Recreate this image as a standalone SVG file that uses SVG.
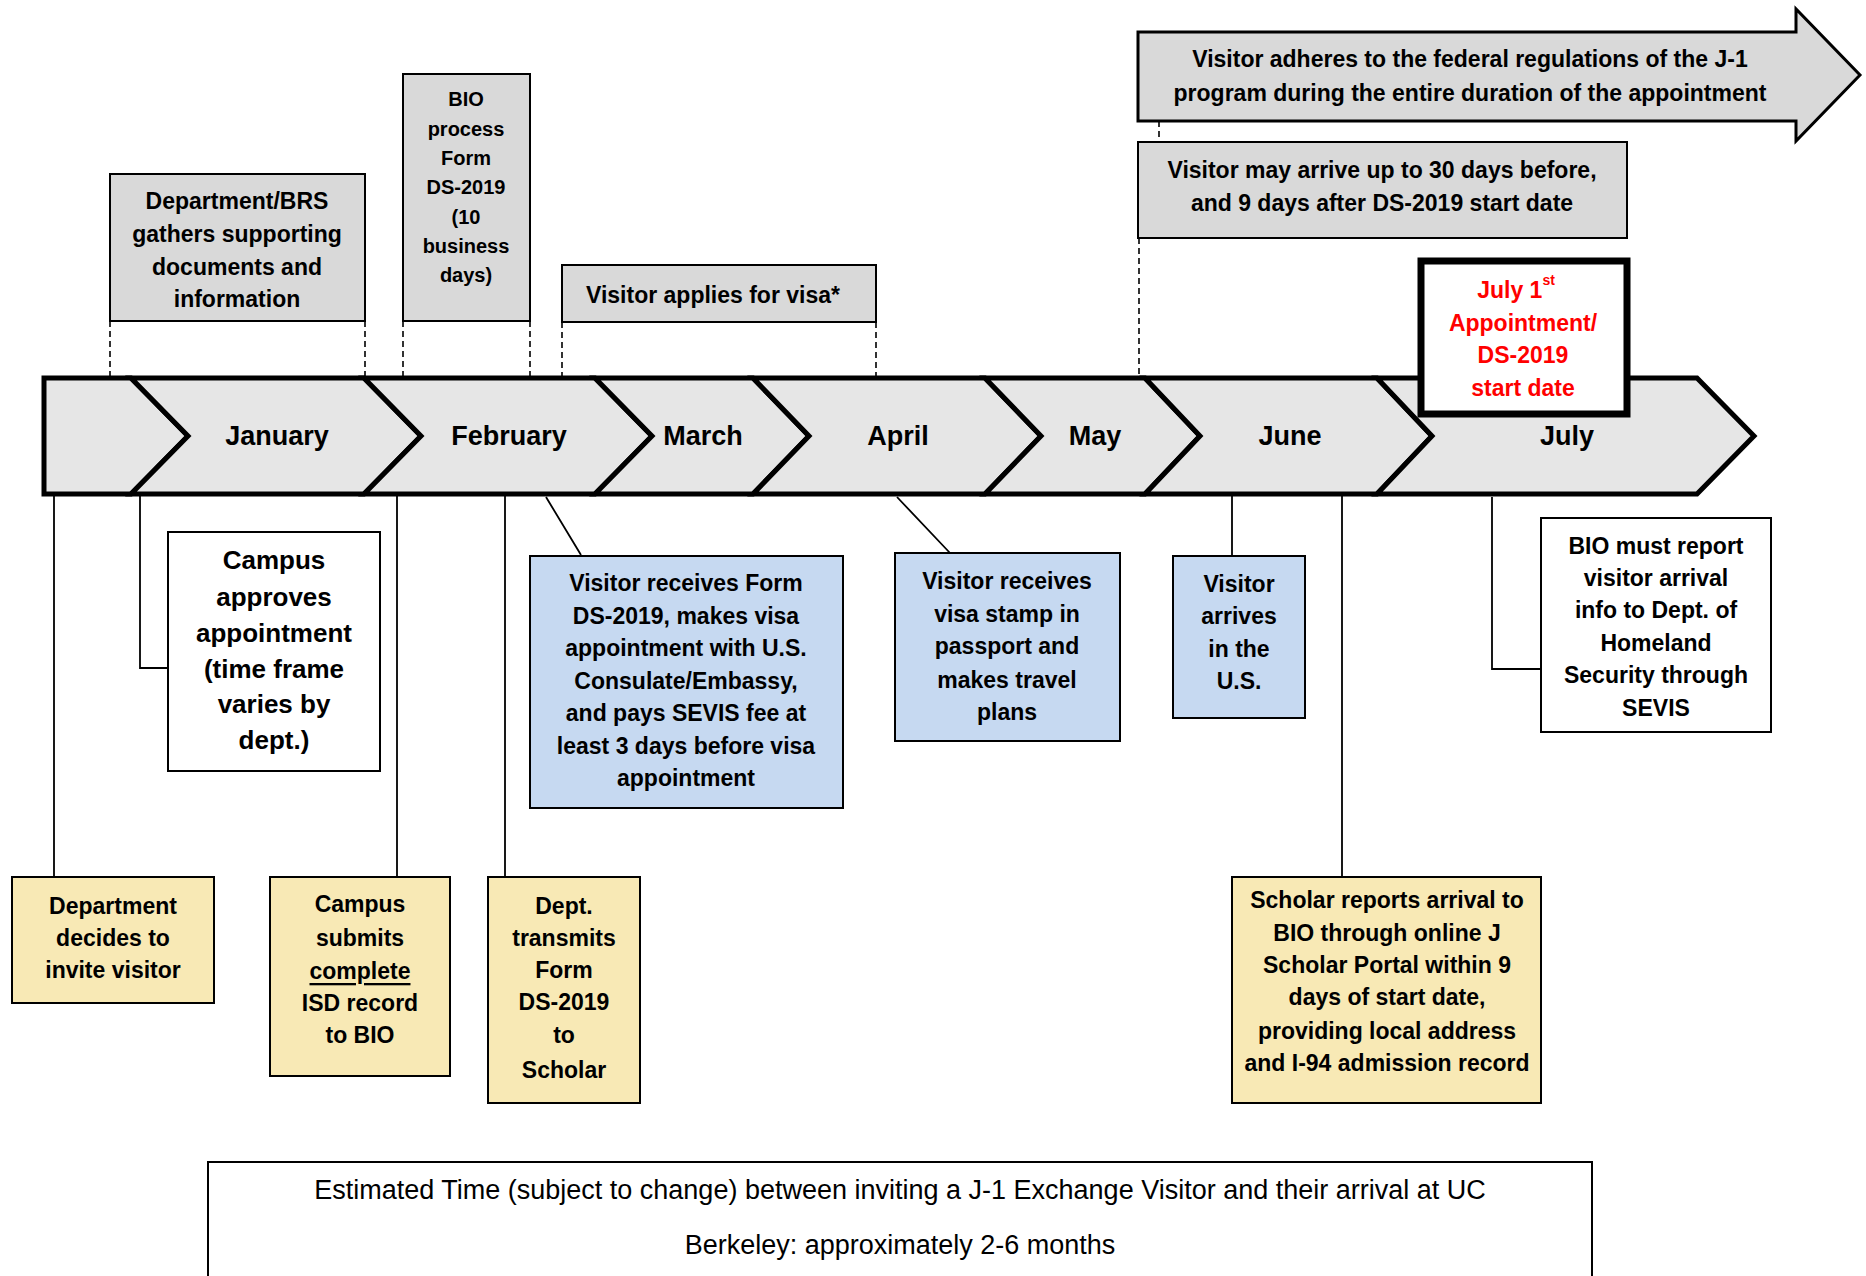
<svg xmlns="http://www.w3.org/2000/svg" width="1866" height="1276" viewBox="0 0 1866 1276">
<style>
text{font-family:"Liberation Sans",Arial,sans-serif;font-weight:bold;fill:#000;text-anchor:middle;dominant-baseline:central}
.g{fill:#D9D9D9;stroke:#000;stroke-width:2}
.w{fill:#fff;stroke:#000;stroke-width:2}
.b{fill:#C6D9F1;stroke:#000;stroke-width:2}
.y{fill:#F8E9B5;stroke:#000;stroke-width:2}
.band{fill:#E6E6E6;stroke:#000;stroke-width:5;stroke-linejoin:miter}
.t23{font-size:23px}
.mon{font-size:27px}
.dash{stroke:#000;stroke-width:1.6;stroke-dasharray:6 4;fill:none}
.ln{stroke:#000;stroke-width:1.8;fill:none}
</style>
<rect width="1866" height="1276" fill="#fff"/>

<g id="band">
<polygon class="band" points="44,378 131,378 188,436 131,494 44,494"/>
<polygon class="band" points="131,378 364,378 421,436 364,494 131,494 188,436"/>
<polygon class="band" points="364,378 595,378 652,436 595,494 364,494 421,436"/>
<polygon class="band" points="595,378 753,378 809,436 753,494 595,494 652,436"/>
<polygon class="band" points="753,378 985,378 1041,436 985,494 753,494 809,436"/>
<polygon class="band" points="985,378 1145,378 1200,436 1145,494 985,494 1041,436"/>
<polygon class="band" points="1145,378 1377,378 1432,436 1377,494 1145,494 1200,436"/>
<polygon class="band" points="1377,378 1697,378 1754,436 1697,494 1377,494 1432,436"/>
<text class="mon" x="277" y="436">January</text>
<text class="mon" x="509" y="436">February</text>
<text class="mon" x="703" y="436">March</text>
<text class="mon" x="898" y="436">April</text>
<text class="mon" x="1095" y="436">May</text>
<text class="mon" x="1290" y="436">June</text>
<text class="mon" x="1567" y="436">July</text>
</g>

<g id="connectors">
<path class="dash" d="M110,321V378M365,321V378M403,321V378M530,321V378M562,322V378M876,322V378M1159,121V142M1139,238V378"/>
<path class="ln" d="M54,494V877M140,494V668H168M397,494V877M505,494V877M546,497L581,555M897,497L950,553M1232,494V555M1342,494V877M1492,497V669H1541"/>
</g>

<g id="n-gather">
<rect class="g" x="110" y="174" width="255" height="147"/>
<text class="t23" x="237"><tspan x="237" y="201">Department/BRS</tspan><tspan x="237" y="234">gathers supporting</tspan><tspan x="237" y="267">documents and</tspan><tspan x="237" y="299">information</tspan></text>
</g>

<g id="n-bio">
<rect class="g" x="403" y="74" width="127" height="247"/>
<text style="font-size:20px" x="466"><tspan x="466" y="99">BIO</tspan><tspan x="466" y="129">process</tspan><tspan x="466" y="158">Form</tspan><tspan x="466" y="187">DS-2019</tspan><tspan x="466" y="217">(10</tspan><tspan x="466" y="246">business</tspan><tspan x="466" y="275">days)</tspan></text>
</g>

<g id="n-visa">
<rect class="g" x="562" y="265" width="314" height="57"/>
<text class="t23" x="713" y="295">Visitor applies for visa*</text>
</g>

<g id="n-adheres">
<polygon class="g" style="stroke-width:3" points="1138,32 1796,32 1796,9 1860,75 1796,141 1796,121 1138,121"/>
<text class="t23" x="1470"><tspan x="1470" y="59">Visitor adheres to the federal regulations of the J-1</tspan><tspan x="1470" y="93">program during the entire duration of the appointment</tspan></text>
</g>

<g id="n-arrive">
<rect class="g" x="1138" y="142" width="489" height="96"/>
<text class="t23" x="1382"><tspan x="1382" y="170">Visitor may arrive up to 30 days before,</tspan><tspan x="1382" y="203">and 9 days after DS-2019 start date</tspan></text>
</g>

<g id="n-july1">
<rect x="1421" y="261" width="206" height="153" fill="#fff" stroke="#000" stroke-width="7"/>
<text style="font-size:23px;fill:#FF0000" x="1523"><tspan x="1516" y="290">July 1</tspan><tspan style="font-size:14px" dy="-10">st</tspan><tspan x="1523" y="323">Appointment/</tspan><tspan x="1523" y="355">DS-2019</tspan><tspan x="1523" y="388">start date</tspan></text>
</g>

<g id="n-approves">
<rect class="w" x="168" y="532" width="212" height="239"/>
<text style="font-size:26px" x="274"><tspan x="274" y="560">Campus</tspan><tspan x="274" y="597">approves</tspan><tspan x="274" y="633">appointment</tspan><tspan x="274" y="669">(time frame</tspan><tspan x="274" y="704">varies by</tspan><tspan x="274" y="740">dept.)</tspan></text>
</g>

<g id="n-receives-form">
<rect class="b" x="530" y="556" width="313" height="252"/>
<text class="t23" x="686"><tspan x="686" y="583">Visitor receives Form</tspan><tspan x="686" y="616">DS-2019, makes visa</tspan><tspan x="686" y="648">appointment with U.S.</tspan><tspan x="686" y="681">Consulate/Embassy,</tspan><tspan x="686" y="713">and pays SEVIS fee at</tspan><tspan x="686" y="746">least 3 days before visa</tspan><tspan x="686" y="778">appointment</tspan></text>
</g>

<g id="n-stamp">
<rect class="b" x="895" y="553" width="225" height="188"/>
<text class="t23" x="1007"><tspan x="1007" y="581">Visitor receives</tspan><tspan x="1007" y="614">visa stamp in</tspan><tspan x="1007" y="646">passport and</tspan><tspan x="1007" y="680">makes travel</tspan><tspan x="1007" y="712">plans</tspan></text>
</g>

<g id="n-arrives">
<rect class="b" x="1173" y="556" width="132" height="162"/>
<text class="t23" x="1239"><tspan x="1239" y="584">Visitor</tspan><tspan x="1239" y="616">arrives</tspan><tspan x="1239" y="649">in the</tspan><tspan x="1239" y="681">U.S.</tspan></text>
</g>

<g id="n-bio-report">
<rect class="w" x="1541" y="518" width="230" height="214"/>
<text class="t23" x="1656"><tspan x="1656" y="546">BIO must report</tspan><tspan x="1656" y="578">visitor arrival</tspan><tspan x="1656" y="610">info to Dept. of</tspan><tspan x="1656" y="643">Homeland</tspan><tspan x="1656" y="675">Security through</tspan><tspan x="1656" y="708">SEVIS</tspan></text>
</g>

<g id="n-decides">
<rect class="y" x="12" y="877" width="202" height="126"/>
<text class="t23" x="113"><tspan x="113" y="906">Department</tspan><tspan x="113" y="938">decides to</tspan><tspan x="113" y="970">invite visitor</tspan></text>
</g>

<g id="n-submits">
<rect class="y" x="270" y="877" width="180" height="199"/>
<text class="t23" x="360"><tspan x="360" y="904">Campus</tspan><tspan x="360" y="938">submits</tspan><tspan x="360" y="971" text-decoration="underline">complete</tspan><tspan x="360" y="1003">ISD record</tspan><tspan x="360" y="1035">to BIO</tspan></text>
</g>

<g id="n-transmits">
<rect class="y" x="488" y="877" width="152" height="226"/>
<text class="t23" x="564"><tspan x="564" y="906">Dept.</tspan><tspan x="564" y="938">transmits</tspan><tspan x="564" y="970">Form</tspan><tspan x="564" y="1002">DS-2019</tspan><tspan x="564" y="1035">to</tspan><tspan x="564" y="1070">Scholar</tspan></text>
</g>

<g id="n-scholar">
<rect class="y" x="1232" y="877" width="309" height="226"/>
<text class="t23" x="1387"><tspan x="1387" y="900">Scholar reports arrival to</tspan><tspan x="1387" y="933">BIO through online J</tspan><tspan x="1387" y="965">Scholar Portal within 9</tspan><tspan x="1387" y="997">days of start date,</tspan><tspan x="1387" y="1031">providing local address</tspan><tspan x="1387" y="1063">and I-94 admission record</tspan></text>
</g>

<g id="n-estimate">
<rect x="208" y="1162" width="1384" height="130" fill="#fff" stroke="#000" stroke-width="2"/>
<text style="font-size:27px;font-weight:normal" x="900"><tspan x="900" y="1190">Estimated Time (subject to change) between inviting a J-1 Exchange Visitor and their arrival at UC</tspan><tspan x="900" y="1245">Berkeley: approximately 2-6 months</tspan></text>
</g>
</svg>
